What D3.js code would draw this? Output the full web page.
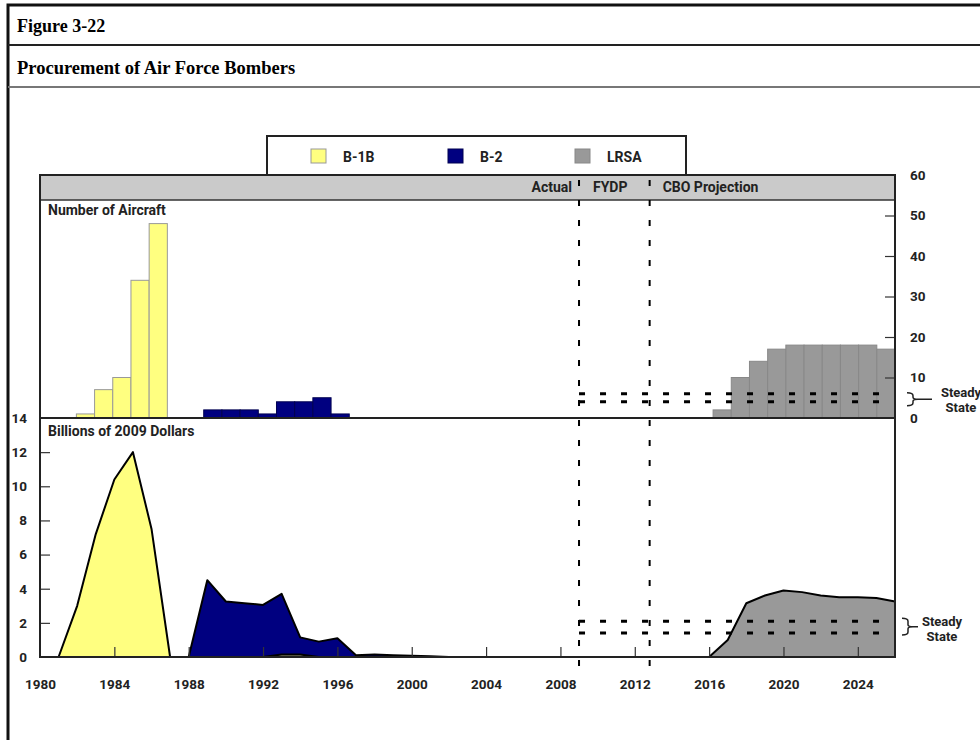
<!DOCTYPE html>
<html>
<head>
<meta charset="utf-8">
<script src="https://cdn.jsdelivr.net/npm/d3@7"></script>
<style>
  body { margin: 0; background: #fff; overflow: hidden; }
  svg { display: block; }
  .sans { font-family: Roboto, "Liberation Sans", sans-serif; font-weight: bold; }
</style>
</head>
<body>
<div id="chart"></div>
<script>
// Procurement of Air Force Bombers - two stacked panels (aircraft / dollars)

// upper panel: number of aircraft bought per year
const b1bBarYears = [1982, 1983, 1984, 1985, 1986];
const b1bBarCounts = [1, 7, 10, 34, 48];
const b2BarYears = [1989, 1990, 1991, 1992, 1993, 1994, 1995, 1996];
const b2BarCounts = [2, 2, 2, 1, 4, 4, 5, 1];
const lrsaBarYears = [2017, 2018, 2019, 2020, 2021, 2022, 2023, 2024, 2025, 2026];
const lrsaBarCounts = [2, 10, 14, 17, 18, 18, 18, 18, 18, 17];

// lower panel: billions of 2009 dollars
const b1bFundYears = [1981, 1982, 1983, 1984, 1985, 1986, 1987];
const b1bFund = [0, 3, 7.2, 10.4, 12, 7.5, 0];
const b1bModYears = [1992, 1993, 1994, 1995];
const b1bMod = [0, 0.15, 0.15, 0];
const b2FundYears = [1988, 1989, 1990, 1991, 1992, 1993, 1994, 1995, 1996, 1997, 1998, 1999, 2000, 2001, 2002];
const b2Fund = [0, 4.5, 3.25, 3.15, 3.05, 3.7, 1.15, 0.9, 1.1, 0.1, 0.15, 0.1, 0.07, 0.05, 0];
const lrsaFundYears = [2016, 2017, 2018, 2019, 2020, 2021, 2022, 2023, 2024, 2025, 2026];
const lrsaFund = [0, 1.0, 3.15, 3.6, 3.9, 3.8, 3.6, 3.5, 3.5, 3.45, 3.25];

// steady state ranges and period breaks
const steadyAircraft = [4, 6];
const steadyDollars = [1.4, 2.1];
const periodBreaks = [2009, 2012.8];
const periodLabels = ["Actual", "FYDP", "CBO Projection"];

// ticks
const xTicks = [1980, 1984, 1988, 1992, 1996, 2000, 2004, 2008, 2012, 2016, 2020, 2024];
const aircraftTicks = [0, 10, 20, 30, 40, 50, 60];
const dollarTicks = [0, 2, 4, 6, 8, 10, 12, 14];

const legendItems = [
    { name: "B-1B", color: "#ffff80", stroke: "#999" },
    { name: "B-2", color: "#000080", stroke: "#000050" },
    { name: "LRSA", color: "#999999", stroke: "#888" }
];

const w = 980, h = 740;
const plot = { left: 40, right: 895, top: 175, band: 200, mid: 418, bottom: 657 };

const svg = d3.select("#chart").append("svg")
    .attr("width", w)
    .attr("height", h);

// frame and title rows
svg.append("rect")
    .attr("x", 8).attr("y", 5)
    .attr("width", 1000).attr("height", 760)
    .attr("fill", "none")
    .attr("stroke", "#111")
    .attr("stroke-width", 3);

svg.append("line")
    .attr("x1", 8).attr("x2", w).attr("y1", 45).attr("y2", 45)
    .attr("stroke", "#222").attr("stroke-width", 2);
svg.append("line")
    .attr("x1", 8).attr("x2", w).attr("y1", 87).attr("y2", 87)
    .attr("stroke", "#777").attr("stroke-width", 2);

const serif = "'Liberation Serif', 'Times New Roman', serif";
svg.append("text")
    .attr("x", 17).attr("y", 32)
    .style("font-family", serif)
    .style("font-weight", "bold")
    .style("font-size", "18px")
    .text("Figure 3-22");

svg.append("text")
    .attr("x", 17).attr("y", 74)
    .style("font-family", serif)
    .style("font-weight", "bold")
    .style("font-size", "18.5px")
    .text("Procurement of Air Force Bombers");

// scales
const xLin = d3.scaleLinear().domain([1980, 2026]).range([plot.left, plot.right]);
const xBand = d3.scaleBand().domain(d3.range(1980, 2027)).range([plot.left, plot.right]);
const yTop = d3.scaleLinear().domain([0, 60]).range([plot.mid, plot.top]);
const yBot = d3.scaleLinear().domain([0, 14]).range([plot.bottom, plot.mid]);

// legend box
const legend = svg.append("g");
legend.append("rect")
    .attr("x", 267).attr("y", 136)
    .attr("width", 419).attr("height", 45)
    .attr("fill", "#fff")
    .attr("stroke", "#222")
    .attr("stroke-width", 2);

const legendX = [311, 448, 575];
legendItems.forEach((d, i) => {
    legend.append("rect")
        .attr("x", legendX[i]).attr("y", 149)
        .attr("width", 15).attr("height", 14)
        .attr("fill", d.color)
        .attr("stroke", d.stroke)
        .attr("stroke-width", 1);
    legend.append("text")
        .attr("class", "sans")
        .attr("x", legendX[i] + 32).attr("y", 162)
        .style("font-size", "14px")
        .style("fill", "#222")
        .text(d.name);
});

// header band
svg.append("rect")
    .attr("x", plot.left).attr("y", plot.top)
    .attr("width", plot.right - plot.left).attr("height", plot.band - plot.top)
    .attr("fill", "#cacaca")
    .attr("stroke", "#333")
    .attr("stroke-width", 1.5);

const header = svg.append("g").attr("class", "sans").style("font-size", "14px").style("fill", "#222");
header.append("text")
    .attr("x", xLin(periodBreaks[0]) - 7).attr("y", 192)
    .attr("text-anchor", "end")
    .text(periodLabels[0]);
header.append("text")
    .attr("x", xLin(periodBreaks[0]) + 14).attr("y", 192)
    .text(periodLabels[1]);
header.append("text")
    .attr("x", xLin(periodBreaks[1]) + 13).attr("y", 192)
    .text(periodLabels[2]);

// bars
const bars = svg.append("g");
function drawBars(years, counts, item) {
    bars.selectAll(null)
        .data(years.map((y, i) => ({ year: y, n: counts[i] })))
        .join("rect")
        .attr("x", d => xBand(d.year))
        .attr("width", xBand.bandwidth())
        .attr("y", d => yTop(d.n))
        .attr("height", d => yTop(0) - yTop(d.n))
        .attr("fill", item.color)
        .attr("stroke", item.stroke)
        .attr("stroke-width", 1);
}
drawBars(b1bBarYears, b1bBarCounts, legendItems[0]);
drawBars(b2BarYears, b2BarCounts, legendItems[1]);
drawBars(lrsaBarYears, lrsaBarCounts, legendItems[2]);

// funding areas
const areas = svg.append("g");
function drawArea(years, vals, fill, opacity) {
    const pts = years.map((y, i) => ({ year: y, v: vals[i] }));
    areas.append("path")
        .datum(pts)
        .attr("d", d3.area().x(d => xLin(d.year)).y0(yBot(0)).y1(d => yBot(d.v)))
        .attr("fill", fill)
        .attr("fill-opacity", opacity);
    areas.append("path")
        .datum(pts)
        .attr("d", d3.line().x(d => xLin(d.year)).y(d => yBot(d.v)))
        .attr("fill", "none")
        .attr("stroke", "#000")
        .attr("stroke-width", 2)
        .attr("stroke-linejoin", "round");
}
drawArea(b1bFundYears, b1bFund, "#ffff80", 1);
drawArea(b2FundYears, b2Fund, "#000080", 1);
drawArea(b1bModYears, b1bMod, "#ffff80", 0.65);
drawArea(lrsaFundYears, lrsaFund, "#999999", 1);

// steady state dashed lines
const steady = svg.append("g")
    .attr("stroke", "#000")
    .attr("stroke-width", 3)
    .attr("stroke-dasharray", "6,15");
steadyAircraft.forEach(v => {
    steady.append("line")
        .attr("x1", xLin(periodBreaks[0])).attr("x2", plot.right)
        .attr("y1", yTop(v)).attr("y2", yTop(v));
});
steadyDollars.forEach(v => {
    steady.append("line")
        .attr("x1", xLin(periodBreaks[0])).attr("x2", plot.right)
        .attr("y1", yBot(v)).attr("y2", yBot(v));
});

// period break lines
svg.append("g")
    .selectAll("line")
    .data(periodBreaks)
    .join("line")
    .attr("x1", d => xLin(d)).attr("x2", d => xLin(d))
    .attr("y1", plot.top + 5).attr("y2", plot.bottom + 11)
    .attr("stroke", "#000")
    .attr("stroke-width", 2)
    .attr("stroke-dasharray", "6,14");

// axes
const xAxis = svg.append("g")
    .attr("transform", `translate(0,${plot.bottom})`)
    .call(d3.axisBottom(xLin).tickValues(xTicks).tickFormat(d3.format("d")).tickSize(-10).tickPadding(22));

const yLeft = svg.append("g")
    .attr("transform", `translate(${plot.left},0)`)
    .call(d3.axisLeft(yBot).tickValues(dollarTicks).tickSize(-10).tickPadding(13));

const yRight = svg.append("g")
    .attr("transform", `translate(${plot.right},0)`)
    .call(d3.axisRight(yTop).tickValues(aircraftTicks).tickSize(-10).tickPadding(15));

[xAxis, yLeft, yRight].forEach(g => {
    g.select(".domain").remove();
    g.selectAll(".tick line").attr("stroke", "#333").attr("stroke-width", 1.2);
    g.selectAll(".tick text")
        .attr("class", "sans")
        .style("font-size", "13.5px")
        .style("fill", "#222");
});
yRight.selectAll(".tick line").filter(d => d === 0 || d === 60).remove();
yLeft.selectAll(".tick line").filter(d => d === 0 || d === 14).remove();
xAxis.selectAll(".tick line").filter(d => d === 1980).remove();

// panel border and divider
svg.append("rect")
    .attr("x", plot.left).attr("y", plot.top)
    .attr("width", plot.right - plot.left).attr("height", plot.bottom - plot.top)
    .attr("fill", "none")
    .attr("stroke", "#222")
    .attr("stroke-width", 2);
svg.append("line")
    .attr("x1", plot.left).attr("x2", plot.right)
    .attr("y1", plot.mid).attr("y2", plot.mid)
    .attr("stroke", "#222")
    .attr("stroke-width", 2);

// panel titles
svg.append("text")
    .attr("class", "sans")
    .attr("x", 48).attr("y", 215)
    .style("font-size", "14px")
    .style("fill", "#222")
    .text("Number of Aircraft");
svg.append("text")
    .attr("class", "sans")
    .attr("x", 48).attr("y", 436)
    .style("font-size", "14px")
    .style("fill", "#222")
    .text("Billions of 2009 Dollars");

// steady state brackets and notes
function bracket(x0, yA, yB, tail) {
    const ym = (yA + yB) / 2, x1 = x0 + 6, x2 = x0 + 11;
    svg.append("path")
        .attr("d", `M${x0},${yA} Q${x1},${yA} ${x1},${yA + 3} L${x1},${ym - 2} Q${x1},${ym} ${x2},${ym}
                    Q${x1},${ym} ${x1},${ym + 2} L${x1},${yB - 3} Q${x1},${yB} ${x0},${yB} M${x2},${ym} L${tail},${ym}`)
        .attr("fill", "none")
        .attr("stroke", "#222")
        .attr("stroke-width", 1.5);
}
bracket(907, yTop(steadyAircraft[1]) - 1, yTop(steadyAircraft[0]) + 4, 932);
bracket(902, yBot(steadyDollars[1]) - 3, yBot(steadyDollars[0]) + 2, 918);

function note(x, y) {
    const t = svg.append("text")
        .attr("class", "sans")
        .attr("text-anchor", "middle")
        .style("font-size", "13px")
        .style("fill", "#222");
    t.append("tspan").attr("x", x).attr("y", y).text("Steady");
    t.append("tspan").attr("x", x).attr("y", y + 15).text("State");
}
note(961, 397);
note(942, 626);
</script>
</body>
</html>
